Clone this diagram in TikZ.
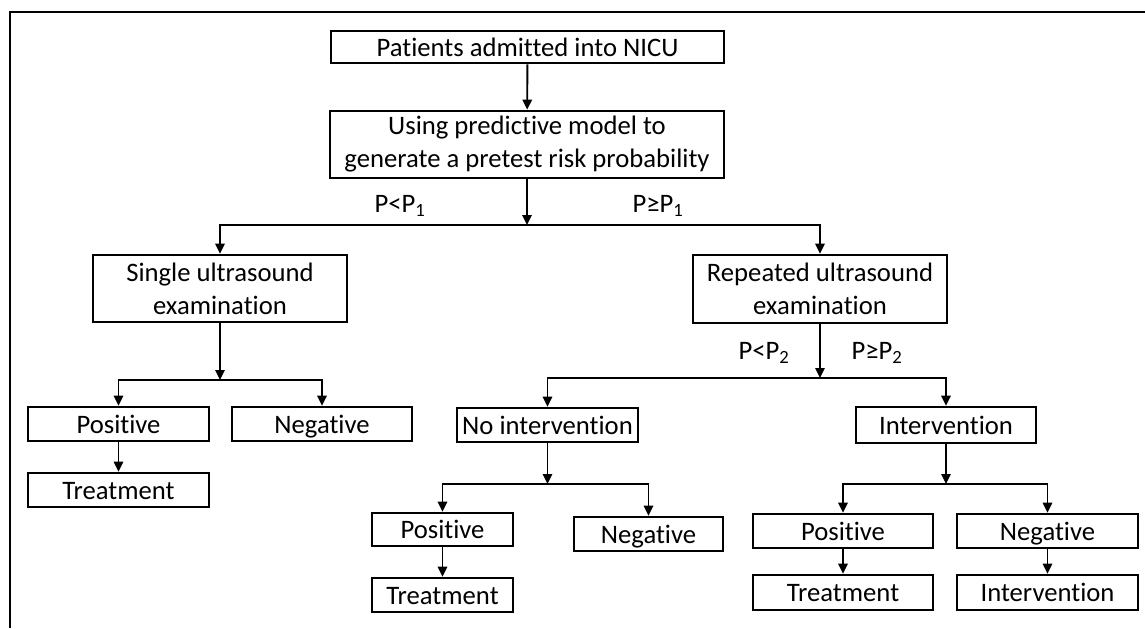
\documentclass[tikz,border=0pt]{standalone}
\usepackage{fontspec}
\setmainfont{Carlito}[Ligatures=NoCommon]
\usetikzlibrary{arrows.meta}

\tikzset{every picture/.style={line width=0.75pt}}
\tikzset{
  box/.style={draw, line width=2pt, inner sep=0pt, align=center,
    font=\fontsize{20}{24.75}\selectfont},
  onebox/.style={box, text height=17pt, text depth=3pt},
  wh/.style 2 args={minimum width=#1*0.75pt, minimum height=#2*0.75pt},
  conn/.style={line width=1.4pt, -{Triangle[length=7.5pt,width=7pt]}},
  lbl/.style={inner sep=0pt, font=\fontsize{20}{25}\selectfont}
}

\begin{document}
\begin{tikzpicture}[x=0.75pt,y=0.75pt,yscale=-1,xscale=1]
\useasboundingbox (0,0) rectangle (1145,628);

%Frame
\draw [line width=1.6pt] (10,628) -- (10,12) -- (1145,12) ;

%Top
\node [onebox, wh={393}{32}] (adm) at (527.5,47) {Patients admitted into NICU};
\node [box, wh={394}{67}] (model) at (527,144.5) {Using predictive model to\\generate a pretest risk probability};
\coordinate (s1) at (527,225);

%Branch P1
\node [box, wh={254}{67}] (single) at (220,288.5) {Single ultrasound\\examination};
\node [box, wh={254}{68}] (rep) at (820,289) {Repeated ultrasound\\examination};
\node [lbl] (p1lo) at (400,206) {P<P\textsubscript{1}};
\node [lbl] (p1hi) at (658,206) {P≥P\textsubscript{1}};

%Single branch
\coordinate (s2) at (220,380);
\node [onebox, wh={181}{34}] (pos1) at (118.5,424) {Positive};
\node [onebox, wh={180}{34}] (neg1) at (322,424) {Negative};
\node [onebox, wh={181}{34}] (trt1) at (118.5,490) {Treatment};

%Repeated branch
\coordinate (s3) at (820,378);
\node [lbl] (p2lo) at (764,353) {P<P\textsubscript{2}};
\node [lbl] (p2hi) at (877,353) {P≥P\textsubscript{2}};
\node [onebox, wh={181}{34}] (noint) at (547.5,425) {No intervention};
\node [onebox, wh={180}{36}] (inter) at (946,425) {Intervention};

%No intervention branch
\coordinate (s4) at (547.5,484);
\node [onebox, wh={141}{33}] (pos2) at (442.5,529.5) {Positive};
\node [onebox, wh={149}{34}] (neg2) at (648.5,534) {Negative};
\node [onebox, wh={141}{34}] (trt2) at (442.5,595) {Treatment};

%Intervention branch
\coordinate (s5) at (946,484);
\node [onebox, wh={180}{34}] (pos3) at (843,531) {Positive};
\node [onebox, wh={181}{34}] (neg3) at (1047.5,531) {Negative};
\node [onebox, wh={180}{35}] (trt3) at (843,592.5) {Treatment};
\node [onebox, wh={181}{35}] (int3) at (1047.5,592.5) {Intervention};

%Connectors
\draw [conn] (adm) -- (model) ;
\draw [conn] (model) -- (s1) ;
\draw [conn] (s1) -| (single) ;
\draw [conn] (s1) -| (rep) ;

\draw [conn] (single) -- (s2) ;
\draw [conn] (s2) -| (pos1) ;
\draw [conn] (s2) -| (neg1) ;
\draw [conn] (pos1) -- (trt1) ;

\draw [conn] (rep) -- (s3) ;
\draw [conn] (s3) -| (noint) ;
\draw [conn] (s3) -| (inter) ;

\draw [conn] (noint) -- (s4) ;
\draw [conn] (s4) -| (pos2) ;
\draw [conn] (s4) -| (neg2) ;
\draw [conn] (pos2) -- (trt2) ;

\draw [conn] (inter) -- (s5) ;
\draw [conn] (s5) -| (pos3) ;
\draw [conn] (s5) -| (neg3) ;
\draw [conn] (pos3) -- (trt3) ;
\draw [conn] (neg3) -- (int3) ;

\end{tikzpicture}
\end{document}
